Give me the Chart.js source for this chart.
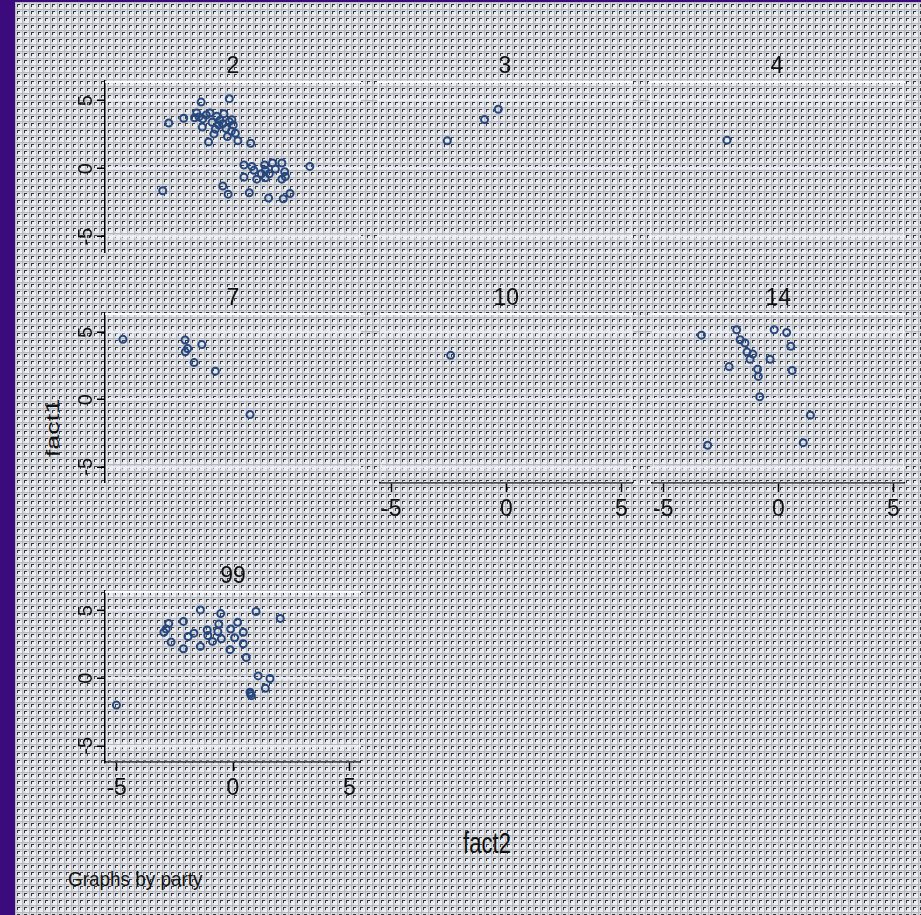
<!DOCTYPE html>
<html>
<head>
<meta charset="utf-8">
<script src="https://cdn.jsdelivr.net/npm/chart.js@4.4.1/dist/chart.umd.min.js"></script>
<style>
  html, body { margin: 0; padding: 0; }
  body { width: 921px; height: 915px; overflow: hidden; background: #3b0a7d; }
  #wrap { position: absolute; left: 0; top: 0; width: 921px; height: 915px; }
  #bg { position: absolute; left: 15px; top: 2px; width: 906px; height: 913px; background-color: #d8dadf; }
  canvas { position: absolute; }
  .txt { position: absolute; font-family: 'Liberation Sans', Arial, sans-serif; color: #111; white-space: nowrap; line-height: 1; }
</style>
</head>
<body>
<div id="wrap">
  <div id="bg"></div>
  <div class="txt" style="left:53px; top:428px; font-size:27px; transform: translate(-50%, -50%) rotate(-90deg) scaleY(0.7);">fact1</div>
  <div class="txt" style="left:487px; top:843px; font-size:29px; transform: translate(-50%, -50%) scaleX(0.76);">fact2</div>
  <div class="txt" style="left:68px; top:878px; font-size:21px; transform-origin: 0 50%; transform: translateY(-50%) scaleX(0.9);">Graphs by party</div>
</div>
<script>
/* ── data ───────────────────────────── */
const parties = ['2', '3', '4', '7', '10', '14', '99'];
const fact2Ticks = [-5, 0, 5];
const fact1Ticks = [-5, 0, 5];
const fact2Range = [-5.5, 5.5];
const fact1Range = [-6.2, 6.45];

// party 2
const p2Fact2 = [-1.37, -0.16, -2.76, -2.12, -1.56, -1.46, -1.30, -1.32, -0.99, -0.90, -0.76, -0.61, -0.56, -0.39,
                 -0.16, 0.01, -0.07, 0.10, -0.24, 0.21, -1.05, 0.76, -0.82, -1.15, -0.70, -0.30, -0.05, -1.65, -0.45,
                 3.30, 0.47, 0.81, 0.90, 1.36, 1.70, 2.10, 1.82, 1.39, 1.22, 1.56, 2.22, 2.25, 2.10, 0.47, 1.02, 1.39,
                 -0.44, -0.21, 0.70, 1.53, 2.16, 2.45, -3.02];
const p2Fact1 = [4.90, 5.15, 3.36, 3.71, 4.10, 3.81, 3.66, 3.06, 4.10, 3.41, 2.91, 3.21, 3.56, 4.05,
                 3.46, 3.21, 2.76, 2.61, 2.36, 2.06, 1.97, 1.87, 2.56, 3.95, 3.85, 2.95, 3.60, 3.75, 3.30,
                 0.17, 0.27, 0.17, -0.12, 0.27, 0.42, 0.42, -0.02, -0.12, -0.37, -0.37, -0.22, -0.57, -0.77, -0.62, -0.77, -0.67,
                 -1.27, -1.87, -1.77, -2.16, -2.21, -1.82, -1.62];
// party 3
const p3Fact2 = [-2.48, -0.88, -0.29];
const p3Fact1 = [2.05, 3.62, 4.37];
// party 4
const p4Fact2 = [-2.15];
const p4Fact1 = [2.10];
// party 7
const p7Fact2 = [-4.73, -2.06, -1.95, -2.05, -1.34, -1.67, -0.76, 0.73];
const p7Fact1 = [4.49, 4.44, 3.80, 3.56, 4.10, 2.76, 2.12, -1.11];
// party 10
const p10Fact2 = [-2.42];
const p10Fact1 = [3.30];
// party 14
const p14Fact2 = [-3.34, -1.81, -1.66, -1.45, -1.36, -1.11, -1.23, -2.14, -0.90, -0.87, -0.36, -0.18, 0.36, 0.54,
                  0.60, -0.81, 1.39, 1.08, -3.07];
const p14Fact1 = [4.80, 5.20, 4.46, 4.22, 3.54, 3.39, 3.00, 2.46, 2.27, 1.73, 3.00, 5.20, 5.00, 3.98,
                  2.17, 0.22, -1.15, -3.20, -3.39];
// party 99
const p99Fact2 = [-5.01, -2.97, -2.87, -2.76, -2.66, -2.13, -2.13, -1.93, -1.68, -1.40, -1.40, -1.11, -1.08, -0.88,
                  -0.65, -0.61, -0.53, -0.50, -0.10, -0.13, 0.07, 0.20, 0.44, 0.44, 0.57, 0.99, 2.03, 1.08, 1.59,
                  1.39, 0.73, 0.79, 0.75];
const p99Fact1 = [-1.99, 3.40, 3.64, 4.05, 2.67, 4.20, 2.18, 3.08, 3.33, 5.05, 2.35, 3.57, 3.16, 2.72,
                  3.45, 4.00, 4.78, 2.91, 3.64, 2.11, 2.99, 4.13, 3.40, 2.55, 1.53, 4.93, 4.42, 0.17, -0.02,
                  -0.75, -1.04, -1.29, -1.15];

/* ── layout ─────────────────────────── */
const FONT = "'Liberation Sans', Arial, sans-serif";
const colLeft = [105, 377, 649];
const colWidth = 256;
const rowTop = [81, 313, 591];
const rowHeight = [172, 170, 171];
const AXW = 50, AXH = 50, TOP = 30;

const panels = [
    { label: '2',  x: p2Fact2,  y: p2Fact1,  col: 0, row: 0, showX: false, showY: true },
    { label: '3',  x: p3Fact2,  y: p3Fact1,  col: 1, row: 0, showX: false, showY: false },
    { label: '4',  x: p4Fact2,  y: p4Fact1,  col: 2, row: 0, showX: false, showY: false },
    { label: '7',  x: p7Fact2,  y: p7Fact1,  col: 0, row: 1, showX: false, showY: true },
    { label: '10', x: p10Fact2, y: p10Fact1, col: 1, row: 1, showX: true,  showY: false },
    { label: '14', x: p14Fact2, y: p14Fact1, col: 2, row: 1, showX: true,  showY: false },
    { label: '99', x: p99Fact2, y: p99Fact1, col: 0, row: 2, showX: true,  showY: true }
];

/* ── background texture ─────────────── */
function makeTile() {
    const c = document.createElement('canvas');
    c.width = 7; c.height = 7;
    const g = c.getContext('2d');
    g.fillStyle = '#d6d8dc'; g.fillRect(0, 0, 7, 7);
    g.fillStyle = '#eceef1'; g.fillRect(3, 3, 4, 4);
    g.fillStyle = '#b5b8be'; g.fillRect(0, 0, 7, 1); g.fillRect(0, 0, 1, 7);
    g.fillStyle = '#34353a'; g.fillRect(2, 2, 3, 1); g.fillRect(2, 2, 1, 3);
    return c.toDataURL();
}
document.getElementById('bg').style.backgroundImage = 'url(' + makeTile() + ')';

/* ── title + plot region outline ────── */
const panelDeco = {
    id: 'panelDeco',
    beforeDatasetsDraw(chart) {
        const a = chart.chartArea, ctx = chart.ctx;
        ctx.save();
        ctx.strokeStyle = 'rgba(250,251,255,0.6)';
        ctx.lineWidth = 1;
        ctx.strokeRect(a.left + 1.5, a.top + 0.5, a.right - a.left - 3, a.bottom - a.top - 1.5);
        ctx.strokeStyle = 'rgba(255,255,255,0.95)';
        ctx.lineWidth = 2;
        ctx.beginPath();
        ctx.moveTo(a.left, a.top + 1);
        ctx.lineTo(a.right, a.top + 1);
        ctx.stroke();
        ctx.restore();
    },
    afterDraw(chart, args, opts) {
        const a = chart.chartArea, ctx = chart.ctx;
        ctx.save();
        ctx.font = '23px ' + FONT;
        ctx.fillStyle = '#111';
        ctx.textAlign = 'center';
        ctx.textBaseline = 'middle';
        ctx.fillText(opts.text, (a.left + a.right) / 2, a.top - 14);
        ctx.restore();
    }
};

/* ── charts ─────────────────────────── */
const wrap = document.getElementById('wrap');

panels.forEach(p => {
    const cv = document.createElement('canvas');
    const left = colLeft[p.col] - (p.showY ? AXW : 0);
    const top = rowTop[p.row] - TOP;
    const w = colWidth + (p.showY ? AXW : 0);
    const h = rowHeight[p.row] + TOP + (p.showX ? AXH : 0);
    cv.style.left = left + 'px';
    cv.style.top = top + 'px';
    cv.style.width = w + 'px';
    cv.style.height = h + 'px';
    cv.width = w; cv.height = h;
    wrap.appendChild(cv);

    new Chart(cv, {
        type: 'scatter',
        data: {
            datasets: [{
                label: p.label,
                data: p.x.map((v, i) => ({ x: v, y: p.y[i] })),
                pointStyle: 'circle',
                pointRadius: 3.5,
                borderWidth: 2,
                borderColor: '#27487f',
                backgroundColor: 'rgba(0,0,0,0)'
            }]
        },
        options: {
            responsive: false,
            animation: false,
            events: [],
            layout: { autoPadding: false, padding: { top: TOP, left: 0, right: 0, bottom: 0 } },
            plugins: {
                legend: { display: false },
                tooltip: { enabled: false },
                panelDeco: { text: p.label }
            },
            scales: {
                x: {
                    type: 'linear',
                    min: fact2Range[0], max: fact2Range[1],
                    display: p.showX,
                    afterBuildTicks: s => { s.ticks = fact2Ticks.map(v => ({ value: v })); },
                    afterFit: s => { s.height = p.showX ? AXH : 0; },
                    grid: { drawOnChartArea: false, tickLength: 9, tickColor: '#000', tickWidth: 1.5 },
                    border: { color: '#000', width: 1.5 },
                    ticks: { font: { family: FONT, size: 23 }, color: '#111', padding: 4, maxRotation: 0 }
                },
                y: {
                    type: 'linear',
                    min: fact1Range[0], max: fact1Range[1],
                    display: true,
                    afterBuildTicks: s => { s.ticks = fact1Ticks.map(v => ({ value: v })); },
                    afterFit: s => {
                        s.width = p.showY ? AXW : 0;
                        s.paddingTop = 0; s.paddingBottom = 0;
                    },
                    grid: {
                        color: 'rgba(238,241,250,0.9)', lineWidth: 2.5,
                        drawTicks: p.showY, tickLength: 8, tickColor: '#000', tickWidth: 1.5
                    },
                    border: { display: p.showY, color: '#000', width: 1.5 },
                    ticks: {
                        display: p.showY,
                        font: { family: FONT, size: 20 }, color: '#111',
                        minRotation: 90, maxRotation: 90, crossAlign: 'center', padding: 2
                    }
                }
            }
        },
        plugins: [panelDeco]
    });
});
</script>
</body>
</html>
